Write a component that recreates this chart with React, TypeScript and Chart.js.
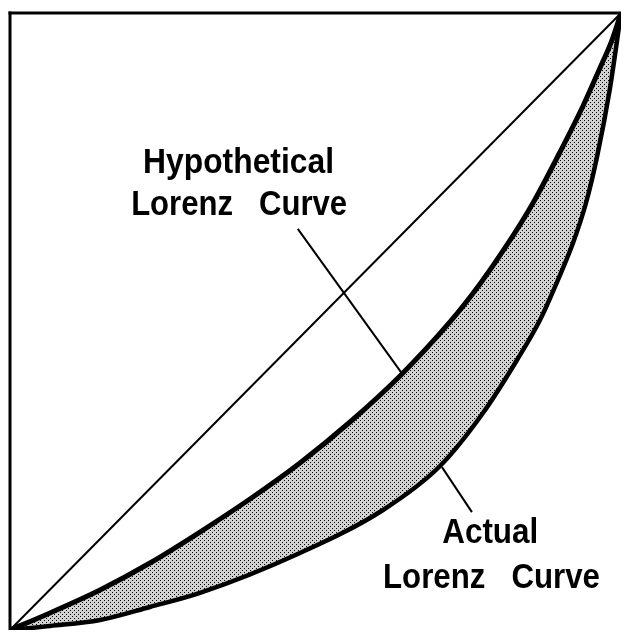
import React, { useEffect, useRef } from "react";
import { Chart, registerables } from "chart.js";

Chart.register(...registerables);

// Equality diagonal
const diagX = [0, 100];
const diagY = [0, 100];

// Hypothetical Lorenz curve (upper)
const hypoX = [0, 6.55, 14.73, 22.91, 31.1, 39.28, 47.46, 55.65, 63.83, 72.01, 76.92, 81.34, 85.6, 90.02, 93.78, 96.56, 98.53, 100];
const hypoY = [0, 2.76, 6.48, 10.86, 15.88, 21.23, 27.07, 33.71, 41.17, 49.92, 56.08, 62.4, 69.21, 77.47, 84.93, 91.09, 95.62, 100];

// Actual Lorenz curve (lower)
const actX = [0, 6.55, 14.73, 22.91, 31.1, 47.46, 61.05, 70.38, 77.41, 82.98, 86.74, 89.53, 92.14, 94.27, 96.07, 98.2, 100];
const actY = [0, 0.65, 1.62, 3.73, 6.0, 12.48, 19.45, 26.58, 35.17, 43.76, 50.24, 56.4, 62.72, 69.21, 76.66, 87.84, 100];

// Leader lines
const leaderHypoX = [47.1, 64.2];
const leaderHypoY = [65.0, 41.5];
const leaderActX = [70.7, 75.6];
const leaderActY = [26.4, 19.1];

// Labels
const labelText = ["Hypothetical", "Lorenz   Curve", "Actual", "Lorenz   Curve"];
const labelX = [37.4, 37.5, 78.6, 78.8];
const labelY = [74.1, 67.3, 14.1, 6.8];

// styling (pixel widths of label lines)
const labelWidthPx = [191, 216, 96, 217];
const FONT = "bold 35px 'Liberation Sans Narrow', 'Liberation Sans', 'DejaVu Sans Condensed', sans-serif";

const pts = (xs: number[], ys: number[]) => xs.map((x, i) => ({ x, y: ys[i] }));

export default function App() {
  const ref = useRef<HTMLCanvasElement | null>(null);

  useEffect(() => {
    const canvas = ref.current;
    if (!canvas) return;
    document.body.style.margin = "0";

    // stipple pattern
    const tile = document.createElement("canvas");
    tile.width = 4;
    tile.height = 4;
    const tctx = tile.getContext("2d")!;
    tctx.fillStyle = "#d2d2d2";
    tctx.fillRect(0, 0, 4, 4);
    tctx.fillStyle = "#000000";
    tctx.fillRect(0, 0, 1, 1);
    tctx.fillRect(2, 2, 1, 1);
    const ctx0 = canvas.getContext("2d")!;
    const pattern = ctx0.createPattern(tile, "repeat")!;

    const framePlugin = {
      id: "frame",
      beforeDatasetsDraw(chart: any) {
        const { ctx, chartArea } = chart;
        ctx.save();
        ctx.fillStyle = "#000";
        ctx.fillRect(chartArea.left - 1.5, chartArea.top - 1.5, chartArea.right - chartArea.left + 1.5, 3);
        ctx.fillRect(chartArea.left - 1.5, chartArea.top - 1.5, 3, chartArea.bottom - chartArea.top + 1.5);
        ctx.restore();
      },
      afterDatasetsDraw(chart: any) {
        const { ctx, scales } = chart;
        ctx.save();
        ctx.fillStyle = "#000";
        ctx.font = FONT;
        ctx.textBaseline = "alphabetic";
        ctx.textAlign = "left";
        labelText.forEach((t, i) => {
          const cx = scales.x.getPixelForValue(labelX[i]);
          const by = scales.y.getPixelForValue(labelY[i]);
          const w = ctx.measureText(t).width;
          const sx = labelWidthPx[i] / w;
          ctx.save();
          ctx.translate(cx - labelWidthPx[i] / 2, by);
          ctx.scale(sx, 1);
          ctx.fillText(t, 0, 0);
          ctx.restore();
        });
        ctx.restore();
      },
    };

    const chart = new Chart(canvas, {
      type: "line",
      data: {
        datasets: [
          { label: "Equality", data: pts(diagX, diagY), borderColor: "#000", borderWidth: 2, pointRadius: 0, fill: false },
          { label: "Hypothetical Lorenz Curve", data: pts(hypoX, hypoY), borderColor: "#000", borderWidth: 5, pointRadius: 0, cubicInterpolationMode: "monotone", fill: false },
          { label: "Actual Lorenz Curve", data: pts(actX, actY), borderColor: "#000", borderWidth: 4.5, pointRadius: 0, cubicInterpolationMode: "monotone", fill: "-1", backgroundColor: pattern as any },
          { label: "leader1", data: pts(leaderHypoX, leaderHypoY), borderColor: "#000", borderWidth: 2, pointRadius: 0, fill: false },
          { label: "leader2", data: pts(leaderActX, leaderActY), borderColor: "#000", borderWidth: 2, pointRadius: 0, fill: false },
        ],
      },
      options: {
        animation: false,
        responsive: false,
        devicePixelRatio: 1,
        layout: { padding: { left: 10, top: 13, right: 3, bottom: 3 } },
        plugins: { legend: { display: false }, tooltip: { enabled: false }, title: { display: false } },
        scales: {
          x: { type: "linear", min: 0, max: 100, display: false },
          y: { type: "linear", min: 0, max: 100, display: false },
        },
      },
      plugins: [framePlugin],
    });
    return () => chart.destroy();
  }, []);

  return (
    <div style={{ position: "absolute", left: 0, top: 0, width: 624, height: 633, background: "#fff" }}>
      <canvas ref={ref} width={624} height={633} style={{ display: "block" }} />
    </div>
  );
}
